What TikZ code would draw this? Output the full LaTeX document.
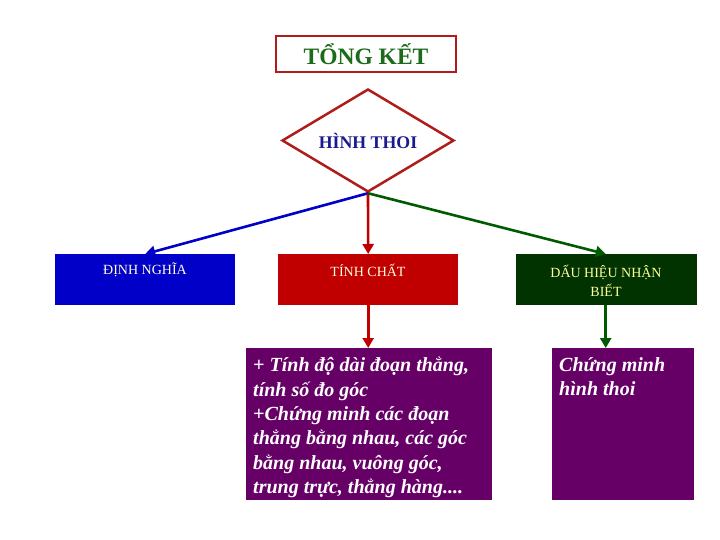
\documentclass[tikz,border=0pt]{standalone}
\usepackage{fontspec}
\setmainfont{Liberation Serif}
\usetikzlibrary{arrows.meta,shapes.geometric}
\definecolor{RhoFrame}{HTML}{B01C1C}
\definecolor{RhoGreen}{HTML}{1B6B1B}
\definecolor{RhoNavy}{HTML}{1A1A8C}
\definecolor{RhoBlue}{HTML}{0000C8}
\definecolor{RhoRed}{HTML}{C00000}
\definecolor{RhoForest}{HTML}{003300}
\definecolor{RhoPlum}{HTML}{660066}
\definecolor{RhoPale}{HTML}{FFFFE0}
\definecolor{RhoLemon}{HTML}{FFFF99}
\definecolor{RhoArrowGreen}{HTML}{005A00}

\begin{document}
\begin{tikzpicture}[x=1pt,y=-1pt,
  block/.style={anchor=north west,inner sep=0pt,minimum width=180pt,minimum height=51pt},
  tag/.style={text=RhoPale,font=\fontsize{14}{19}\selectfont,align=center},
  plumbox/.style={anchor=north west,inner sep=0pt,fill=RhoPlum,minimum height=152pt},
  plumtext/.style={anchor=north west,text=white,align=left,inner sep=0pt,
    font=\fontsize{20}{24.4}\selectfont\bfseries\itshape},
  link/.style={line width=2.6pt,-{Triangle[width=11pt,length=10pt]}}]
\useasboundingbox (0,0) rectangle (720,540);

% title and centre
\node[draw=RhoFrame,line width=2.5pt,minimum width=180pt,minimum height=36pt,
  text=RhoGreen,font=\fontsize{23.5}{26}\selectfont\bfseries] (title) at (366,54) {TỔNG KẾT};
\node[diamond,draw=RhoFrame,line width=2.5pt,minimum width=172pt,minimum height=103pt,
  inner sep=0pt] (rhombus) at (368,140.5) {};
\node[text=RhoNavy,font=\fontsize{17.8}{20}\selectfont\bfseries] (rhombustag) at (rhombus.center) {HÌNH THOI};

% three branches
\node[block,fill=RhoBlue] (defn) at (55,254) {};
\node[tag] (defntag) at (145,270) {ĐỊNH NGHĨA};
\node[block,fill=RhoRed] (prop) at (278,254) {};
\node[tag] (proptag) at (368,270) {TÍNH CHẤT};
\node[block,fill=RhoForest,minimum width=181pt] (sign) at (516,254) {};
\node[tag,text=RhoLemon] (signtag) at (606,281) {DẤU HIỆU NHẬN\\BIẾT};

% applications
\node[plumbox,minimum width=246pt] (use) at (246,348) {};
\node[plumtext] (usetext) at (253,357) {+ Tính độ dài đoạn thẳng,\\tính số đo góc\\+Chứng minh các đoạn\\thẳng bằng nhau, các góc\\bằng nhau, vuông góc,\\trung trực, thẳng hàng....};
\node[plumbox,minimum width=142pt] (proof) at (552,348) {};
\node[plumtext] (prooftext) at (559,357) {Chứng minh\\hình thoi};

% arrows
\draw[link,RhoBlue] (rhombus.south) -- (defn.north);
\draw[link,RhoRed] (rhombus.south) -- (prop.north);
\draw[link,RhoArrowGreen] (rhombus.south) -- ([xshift=-1pt]sign.north);
\draw[link,RhoRed] (prop.south) -- (prop.south |- use.north);
\draw[link,RhoArrowGreen] ([xshift=-1pt]sign.south) -- ([xshift=-1pt]sign.south |- proof.north);
\end{tikzpicture}
\end{document}
